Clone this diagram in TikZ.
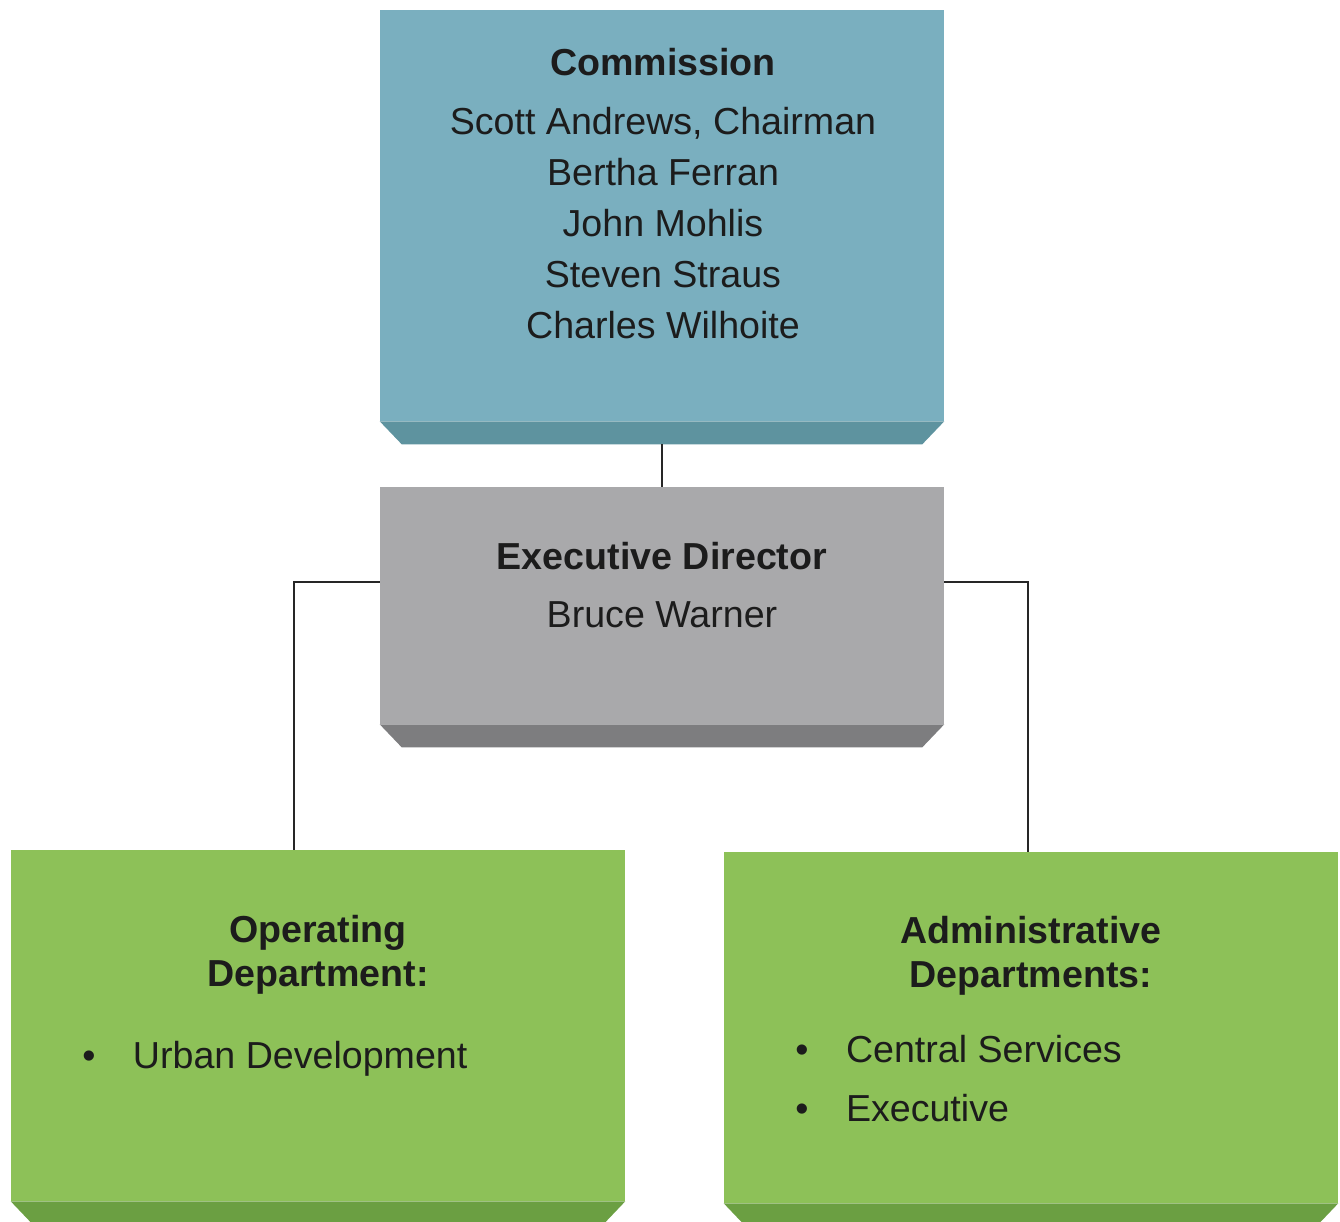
\documentclass[tikz,border=0pt]{standalone}
\usepackage{fontspec}
\setmainfont{Liberation Sans}
\usetikzlibrary{calc}

\definecolor{commface}{HTML}{7AAFBF}
\definecolor{commside}{HTML}{5E939F}
\definecolor{execface}{HTML}{A9A9AB}
\definecolor{execside}{HTML}{7D7D7F}
\definecolor{deptface}{HTML}{8DC158}
\definecolor{deptside}{HTML}{6B9F42}
\definecolor{ink}{HTML}{1C1C1C}

\begin{document}
\begin{tikzpicture}[x=0.02cm, y=-0.02cm,
  face/.style={draw=none, inner sep=0pt},
  txt/.style={text=ink, font=\fontsize{21.4}{29}\selectfont, align=center, inner sep=0pt},
  hd/.style={txt, font=\fontsize{21.4}{25}\selectfont\bfseries},
  link/.style={draw=black!85, line width=1pt}]
\useasboundingbox (0,0) rectangle (1340,1222);

\node[face, fill=commface, minimum width=11.28cm, minimum height=8.22cm](comm) at (662,215.5) {};
\node[face, fill=execface, minimum width=11.28cm, minimum height=4.74cm](exec) at (662,605.5) {};
\node[face, fill=deptface, minimum width=12.28cm, minimum height=7.02cm](oper) at (318,1025.5) {};
\node[face, fill=deptface, minimum width=12.28cm, minimum height=7.02cm](admin) at (1031,1027.5) {};

% bevelled bottoms
\fill[commside] (comm.south west) -- (comm.south east) -- ($(comm.south east)+(-22,23)$) -- ($(comm.south west)+(22,23)$) -- cycle;
\fill[execside] (exec.south west) -- (exec.south east) -- ($(exec.south east)+(-22,23)$) -- ($(exec.south west)+(22,23)$) -- cycle;
\fill[deptside] (oper.south west) -- (oper.south east) -- ($(oper.south east)+(-20,21)$) -- ($(oper.south west)+(20,21)$) -- cycle;
\fill[deptside] (admin.south west) -- (admin.south east) -- ($(admin.south east)+(-20,21)$) -- ($(admin.south west)+(20,21)$) -- cycle;

% texts
\node[hd](commT) at (663,62) {Commission};
\node[txt](commL) at (663,223) {Scott Andrews, Chairman\\Bertha Ferran\\John Mohlis\\Steven Straus\\Charles Wilhoite};
\node[hd](execT) at (662,556) {Executive Director};
\node[txt](execL) at (662,615) {Bruce Warner};
\node[hd](operT) at (318,955) {Operating\\Department:};
\node[txt, anchor=west](operL) at (82,1059) {\textbullet\hspace{0.75cm}Urban Development};
\node[hd](adminT) at (1031,956) {Administrative\\Departments:};
\node[txt, anchor=west](adminL1) at (795,1049) {\textbullet\hspace{0.75cm}Central Services};
\node[txt, anchor=west](adminL2) at (795,1108) {\textbullet\hspace{0.75cm}Executive};

% connectors
\coordinate (jl) at (294,582);
\coordinate (jr) at (1028,582);
\draw[link] ($(comm.south)+(0,23)$) -- (exec.north);
\draw[link] (exec.west |- jl) -- (jl) -- (jl |- oper.north);
\draw[link] (exec.east |- jr) -- (jr) -- (jr |- admin.north);
\end{tikzpicture}
\end{document}
